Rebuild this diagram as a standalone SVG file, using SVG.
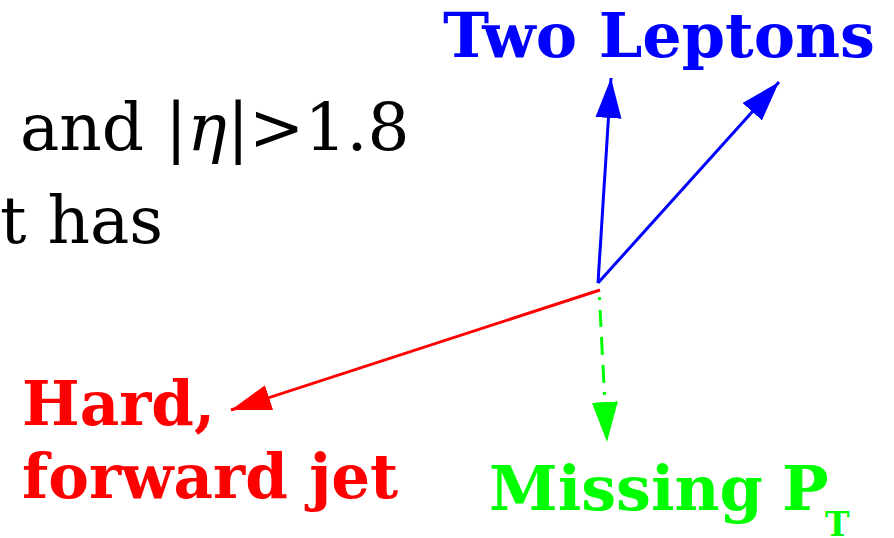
<svg xmlns="http://www.w3.org/2000/svg" width="894" height="538" viewBox="0 0 894 538">
<style>
.t{font-family:"DejaVu Serif",serif;font-size:66px;fill:#000}
.b{font-family:"DejaVu Serif",serif;font-weight:bold;font-size:61px}
.b62{font-size:62px}
.sub{font-size:33px}
</style>
<defs>
<marker id="ab" markerUnits="userSpaceOnUse" markerWidth="40" markerHeight="40" viewBox="0 0 40 30" refX="40" refY="15" orient="auto"><path d="M0,2 L40,15 L0,28 Z" fill="#0000ff"/></marker>
<marker id="ar" markerUnits="userSpaceOnUse" markerWidth="40" markerHeight="40" viewBox="0 0 40 30" refX="40" refY="15" orient="auto"><path d="M0,2 L40,15 L0,28 Z" fill="#ff0000"/></marker>
<marker id="ag" markerUnits="userSpaceOnUse" markerWidth="40" markerHeight="40" viewBox="0 0 40 30" refX="40" refY="15" orient="auto"><path d="M0,2 L40,15 L0,28 Z" fill="#00ff00"/></marker>
</defs>
<rect width="894" height="538" fill="#fff"/>
<g id="text-top">
<text class="t" x="20" y="150">and |<tspan font-style="italic">η</tspan>|&gt;1.8</text>
<text class="t" x="0" y="243">t has</text>
</g>
<g id="connectors" fill="none" stroke-width="3">
<line x1="598" y1="283" x2="611" y2="78" stroke="#0000ff" marker-end="url(#ab)"/>
<line x1="598" y1="283" x2="779" y2="82" stroke="#0000ff" marker-end="url(#ab)"/>
<line x1="600" y1="290" x2="231" y2="410" stroke="#ff0000" marker-end="url(#ar)"/>
<line x1="599" y1="290" x2="607" y2="442" stroke="#00ff00" stroke-dasharray="0,7,3,10,17,10,18,10,18,9,3,100" marker-end="url(#ag)"/>
</g>
<g id="leptons"><text class="b b62" x="443" y="57" fill="#0000ff">Two Leptons</text></g>
<g id="jet"><text class="b" x="22" y="425" fill="#ff0000">Hard,</text><text class="b" x="22" y="498" fill="#ff0000">forward jet</text></g>
<g id="missing"><text class="b b62" x="489" y="510" fill="#00ff00">Missing</text><text class="b b62" x="782" y="510" fill="#00ff00">P</text><text class="b sub" x="825" y="536" fill="#00ff00">T</text></g>
</svg>
